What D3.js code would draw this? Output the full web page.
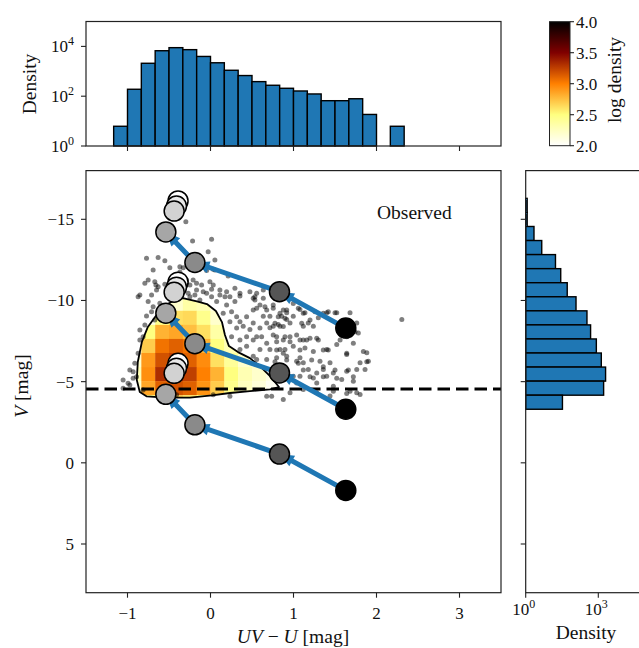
<!DOCTYPE html>
<html><head><meta charset="utf-8">
<script src="https://cdn.jsdelivr.net/npm/d3@7"></script>
<style>
body{margin:0;background:#fff;}
text{font-family:'Liberation Serif','DejaVu Serif',serif;fill:#111;}
</style>
</head><body><svg id="c" width="639" height="648"></svg>
<script>
// ---------------- DATA ----------------
const xTicks = [-1, 0, 1, 2, 3];
const yTicks = [-15, -10, -5, 0, 5];
const cbTicks = [2.0, 2.5, 3.0, 3.5, 4.0];
const topHistTicks = [0, 2, 4];      // exponents
const rightHistTicks = [0, 3];       // exponents

// top histogram (UV-U), bins of 1/6 mag
const topBinStart = -7 / 6;
const topBinWidth = 1 / 6;
const topHistValues = [6.2, 190, 2100, 6700, 8900, 7400, 3950, 2200, 1100, 675, 385, 275, 208, 162, 123, 66, 66, 79, 18.5, 0, 6.2];

// right histogram (V), 15 bins
const rightBinStart = -16.29;
const rightBinWidth = 0.866;
const rightHistValues = [1.15, 1.15, 2.2, 4.6, 17, 28, 52, 120, 340, 480, 830, 1330, 2000, 1660, 33];

// 2D density (log), columns start at UV-U = -1.0 (width 1/6), rows start at V = -10.23 (height 0.866)
const heatColStart = -1.0;
const heatRowStart = -10.23;
const heatLog = [
  [0,   0,    0,    2.2,  2.35, 2.3,  2.1,  0,    0,    0,    0  ],
  [0,   2.1,  2.45, 2.62, 2.65, 2.45, 2.2,  2.05, 0,    0,    0  ],
  [0,   2.5,  2.8,  2.85, 2.75, 2.62, 2.35, 2.15, 0,    0,    0  ],
  [2.1, 2.7,  3.05, 3.12, 3.05, 2.8,  2.5,  2.3,  2.1,  0,    0  ],
  [2.2, 2.9,  3.18, 3.25, 3.12, 2.95, 2.62, 2.4,  2.2,  2.05, 0  ],
  [2.3, 2.94, 3.32, 3.38, 3.25, 3.0,  2.8,  2.5,  2.3,  2.2,  2.1],
  [2.2, 2.85, 3.12, 3.18, 3.12, 2.92, 2.7,  2.45, 2.25, 2.15, 2.05],
  [0,   2.5,  2.7,  2.7,  2.6,  2.5,  2.35, 2.25, 2.15, 2.1,  0  ]
];

// density contour
const contourUV = [-0.333,-0.164,-0.043,0.065,0.138,0.174,0.222,0.331,0.475,0.620,0.729,0.825,0.717,0.475,0.234,0.017,-0.248,-0.550,-0.767,-0.852,-0.888,-0.876,-0.827,-0.755,-0.659,-0.538,-0.417];
const contourV  = [-10.15,-9.94,-9.78,-9.35,-8.67,-7.87,-7.19,-6.82,-6.45,-5.84,-5.28,-4.67,-4.52,-4.42,-4.30,-4.15,-4.02,-4.02,-4.09,-4.36,-5.10,-6.21,-7.44,-8.37,-9.04,-9.72,-10.06];

// observed clusters outside the contour
const scatterUV = [-0.297,-0.216,0.013,-0.028,-0.771,-0.631,-0.55,-0.369,-0.691,-0.751,-0.791,-0.671,-0.329,-0.288,-0.047,0.033,0.053,-0.658,-0.248,-0.168,-0.107,0.033,0.113,0.194,0.294,0.355,0.475,0.535,0.636,0.213,-0.007,-0.49,-0.55,-0.269,0.515,0.355,
-0.851,-0.71,-0.65,-0.751,-0.61,-0.691,-0.71,-0.771,-0.671,-0.791,-0.812,-0.872,-0.912,-0.972,-1.053,-0.993,-0.932,-0.851,-0.872,-0.851,-0.932,-1.053,-0.972,-0.891,-0.812,
-0.248,-0.188,-0.088,-0.128,0.013,0.074,0.174,0.194,0.294,0.153,0.254,0.315,0.234,0.355,0.435,0.515,0.596,0.677,0.756,0.837,0.918,0.997,0.315,0.394,0.475,0.515,0.596,0.677,0.756,0.837,0.918,0.997,0.254,0.355,0.435,0.515,0.616,0.677,0.797,0.877,0.958,0.355,0.435,0.596,0.716,0.837,0.997,0.515,0.677,0.797,0.918,1.038,0.737,0.997,0.677,0.877,0.958,
0.535,0.636,0.556,0.656,0.857,0.716,0.636,0.716,0.816,0.918,0.958,1.078,1.138,1.178,1.118,1.239,1.299,1.40,1.50,1.681,1.762,1.781,2.305,0.556,1.038,1.078,1.159,1.28,1.561,1.641,1.721,0.897,1.138,1.40,1.521,1.641,1.883,1.902,0.556,1.078,1.118,1.319,1.44,1.802,1.178,1.28,1.359,1.48,1.641,1.762,1.862,1.078,1.239,1.40,1.581,1.721,1.038,1.28,1.48,1.118,1.28,1.48,1.681,1.762,0.737,-0.409,0.033,0.234,1.44,1.641,1.802,
0.756,0.877,0.816,0.897,0.777,0.877,1.058,1.118,1.099,1.199,1.259,1.359,1.419,1.521,1.741,0.756,0.797,0.897,0.958,1.118,1.199,1.299,0.797,0.877,1.078,1.239,1.359,1.419,1.641,1.842,1.883,0.777,0.918,1.058,1.219,1.359,1.50,1.661,1.118,1.199,1.359,1.521,1.721,
-0.369,-0.631,-0.288,-0.209,0.053,-0.329,-0.168,-0.047,0.013,0.113,0.234,0.556];
const scatterV = [-14.85,-13.66,-13.77,-13.00,-12.60,-12.65,-12.45,-12.08,-11.88,-11.26,-11.06,-11.16,-12.01,-11.26,-11.84,-11.93,-12.5,-10.95,-10.95,-11.06,-10.95,-10.95,-10.65,-10.54,-10.75,-10.44,-10.54,-10.23,-10.65,-11.51,-11.16,-12.01,-11.0,-10.44,-10.13,-10.28,
-10.34,-10.34,-10.65,-9.93,-9.83,-9.62,-9.31,-9.04,-8.80,-8.49,-7.77,-6.75,-6.13,-5.72,-5.10,-4.90,-5.21,-7.57,-10.23,-8.18,-5.61,-4.59,-4.79,-5.30,-4.48,
-10.23,-10.34,-10.54,-10.03,-10.23,-9.93,-10.23,-9.72,-9.93,-9.21,-9.31,-9.0,-8.69,-8.69,-9.0,-9.41,-9.72,-9.41,-9.72,-9.21,-9.41,-9.82,-8.31,-8.41,-8.21,-8.62,-8.31,-8.62,-8.41,-8.41,-8.83,-9.03,-7.77,-7.57,-7.77,-7.57,-7.77,-7.36,-7.77,-7.57,-7.77,-6.98,-7.18,-6.98,-6.98,-6.98,-7.18,-6.57,-6.36,-6.47,-6.57,-6.26,-5.54,-5.33,-4.10,-3.90,-4.31,
-10.03,-10.13,-9.52,-9.62,-9.03,-9.03,-9.03,-8.32,-8.52,-9.24,-8.62,-9.44,-9.24,-8.62,-8.41,-8.41,-8.93,-9.24,-9.24,-9.24,-8.62,-8.0,-8.83,-7.77,-7.87,-7.57,-7.57,-7.67,-7.57,-7.77,-7.36,-6.98,-7.08,-6.98,-7.29,-6.67,-6.78,-6.26,-6.36,-6.47,-6.16,-6.26,-6.16,-6.16,-5.75,-5.54,-5.75,-5.54,-5.64,-5.75,-5.75,-5.33,-5.23,-5.33,-5.13,-5.02,-4.92,-4.92,-4.71,-4.51,-4.31,-4.41,-4.41,-4.31,-4.10,-4.20,-4.20,-4.10,-4.12,-4.27,-4.21,
-9.52,-9.41,-9.0,-8.90,-8.59,-8.39,-9.52,-9.21,-8.59,-8.80,-9.31,-9.21,-9.31,-9.25,-8.08,-7.87,-7.46,-7.77,-7.46,-7.57,-7.67,-7.57,-6.95,-6.75,-6.95,-6.85,-6.95,-6.95,-6.75,-6.85,-6.23,-6.23,-6.33,-6.13,-6.33,-5.92,-5.72,-5.72,-5.72,-5.30,-5.30,-5.21,-5.30,
-11.76,-10.85,-11.1,-11.26,-11.88,-10.65,-10.65,-10.44,-10.69,-10.34,-10.23,-10.44];

// model evolutionary tracks (young -> old), three masses
const trackUV    = [-0.391, -0.41, -0.438, -0.538, -0.188, 0.831, 1.63];
const trackVBase = [-6.13, -5.82, -5.51, -4.22, -2.34, -0.54, 1.70];
const trackOffsets = [0, -5, -10];
const trackGreys = ['#ffffff', '#e8e8e8', '#d2d2d2', '#a6a6a6', '#8a8a8a', '#555555', '#000000'];

const limitV = -4.55;

// ---------------- DRAWING ----------------
const svg = d3.select('#c');
const BLUE = '#1f77b4';
const x = d3.scaleLinear().domain([-1.5, 3.5]).range([86, 501]);
const y = d3.scaleLinear().domain([-18, 8]).range([170.6, 592.7]);
const yTop = d3.scaleLog().domain([1, 1e5]).range([146, 21.5]);
const xRight = d3.scaleLog().domain([1, 1e5]).range([525.7, 646.7]);
const cbY = d3.scaleLinear().domain([2, 4]).range([145.7, 21.7]);
const afmhotR = v => {
  const t = Math.max(0, Math.min(1, (v - 2) / 2));
  const s = 1 - t, c = z => Math.round(255 * Math.max(0, Math.min(1, z)));
  return `rgb(${c(2*s)},${c(2*s-0.5)},${c(2*s-1)})`;
};
const FS = 17, LFS = 19.5;
const fmtTick = t => t < 0 ? '\u2212' + Math.abs(t) : String(t);

function frame(x0, y0, x1, y1) {
  svg.append('rect').attr('x', x0).attr('y', y0).attr('width', x1 - x0).attr('height', y1 - y0)
    .attr('fill', 'none').attr('stroke', '#222').attr('stroke-width', 1.2);
}
function tickLine(x1, y1, x2, y2) {
  svg.append('line').attr('x1', x1).attr('y1', y1).attr('x2', x2).attr('y2', y2)
    .attr('stroke', '#222').attr('stroke-width', 1.1);
}
function powLabel(px, py, exp, anchor) {
  const t = svg.append('text').attr('x', px).attr('y', py).attr('font-size', FS).attr('text-anchor', anchor);
  t.append('tspan').text('10');
  t.append('tspan').attr('dy', -7.5).attr('font-size', 12).text(exp);
}

// ===== TOP HISTOGRAM =====
const gTop = svg.append('g');
gTop.selectAll('rect').data(topHistValues.map((v, i) => ({v, i})).filter(d => d.v > 0)).join('rect')
  .attr('x', d => x(topBinStart + d.i * topBinWidth))
  .attr('width', d => x(topBinStart + (d.i + 1) * topBinWidth) - x(topBinStart + d.i * topBinWidth))
  .attr('y', d => yTop(d.v))
  .attr('height', d => yTop(1) - yTop(d.v))
  .attr('fill', BLUE).attr('stroke', '#000').attr('stroke-width', 1.4);
frame(86, 21.5, 501, 146);
xTicks.forEach(t => tickLine(x(t), 146, x(t), 151));
topHistTicks.forEach(e => { tickLine(81, yTop(10 ** e), 86, yTop(10 ** e)); powLabel(74, yTop(10 ** e) + 6, e, 'end'); });
svg.append('text').attr('transform', 'translate(36,84) rotate(-90)').attr('text-anchor', 'middle')
  .attr('font-size', LFS).text('Density');

// ===== COLORBAR =====
const grad = svg.append('defs').append('linearGradient').attr('id', 'cbg')
  .attr('x1', 0).attr('y1', 1).attr('x2', 0).attr('y2', 0);
d3.range(0, 1.0001, 0.05).forEach(t => grad.append('stop').attr('offset', t).attr('stop-color', afmhotR(2 + 2 * t)));
svg.append('rect').attr('x', 549.5).attr('y', 21.7).attr('width', 20.5).attr('height', 124)
  .attr('fill', 'url(#cbg)').attr('stroke', '#222').attr('stroke-width', 1);
cbTicks.forEach(t => {
  tickLine(570, cbY(t), 574, cbY(t));
  svg.append('text').attr('x', 576).attr('y', cbY(t) + 6).attr('font-size', FS).text(t.toFixed(1));
});
svg.append('text').attr('transform', 'translate(621,80) rotate(-90)').attr('text-anchor', 'middle')
  .attr('font-size', LFS).text('log density');

// ===== MAIN PANEL =====
const defs = svg.select('defs');
const contourPts = contourUV.map((u, i) => [x(u), y(contourV[i])]);
const contourPath = d3.line().curve(d3.curveLinearClosed)(contourPts);
defs.append('clipPath').attr('id', 'cclip').append('path').attr('d', contourPath);
defs.append('clipPath').attr('id', 'mainclip').append('rect').attr('x', 86).attr('y', 170.6).attr('width', 415).attr('height', 422.1);

const gMain = svg.append('g').attr('clip-path', 'url(#mainclip)');
// heatmap
const cells = [];
heatLog.forEach((row, r) => row.forEach((v, c) => { if (v > 0) cells.push({r, c, v}); }));
gMain.append('g').attr('clip-path', 'url(#cclip)').selectAll('rect').data(cells).join('rect')
  .attr('x', d => x(heatColStart + d.c / 6))
  .attr('width', d => x(heatColStart + (d.c + 1) / 6) - x(heatColStart + d.c / 6) + 0.3)
  .attr('y', d => y(heatRowStart + d.r * rightBinWidth))
  .attr('height', d => y(heatRowStart + (d.r + 1) * rightBinWidth) - y(heatRowStart + d.r * rightBinWidth) + 0.3)
  .attr('fill', d => afmhotR(d.v));
// scatter
gMain.append('g').selectAll('circle').data(scatterUV.map((u, i) => [u, scatterV[i]])).join('circle')
  .attr('cx', d => x(d[0])).attr('cy', d => y(d[1])).attr('r', 2.5)
  .attr('fill', '#000').attr('fill-opacity', 0.5);
// contour
gMain.append('path').attr('d', contourPath).attr('fill', 'none').attr('stroke', '#000').attr('stroke-width', 1.8)
  .attr('stroke-linejoin', 'round');
// limit line
gMain.append('line').attr('x1', 86).attr('x2', 501).attr('y1', y(limitV)).attr('y2', y(limitV))
  .attr('stroke', '#000').attr('stroke-width', 3).attr('stroke-dasharray', '12.5,6');
// tracks
trackOffsets.forEach(off => {
  const pts = trackUV.map((u, i) => [x(u), y(trackVBase[i] + off)]);
  const seg = pts.slice(3);
  gMain.append('path').attr('d', d3.line()(seg)).attr('fill', 'none').attr('stroke', BLUE)
    .attr('stroke-width', 5).attr('stroke-linejoin', 'round');
  for (let i = 3; i < 6; i++) {
    const tgt = pts[i], src = pts[i + 1];
    const dx = src[0] - tgt[0], dy = src[1] - tgt[1], L = Math.hypot(dx, dy);
    const ux = dx / L, uy = dy / L, px = -uy, py = ux;
    const tip = [tgt[0], tgt[1]];
    const b = [tgt[0] + ux * 14.5, tgt[1] + uy * 14.5];
    gMain.append('polygon').attr('points', [tip, [b[0] + px * 6, b[1] + py * 6], [b[0] - px * 6, b[1] - py * 6]].map(p => p.join(',')).join(' '))
      .attr('fill', BLUE);
  }
});
trackOffsets.forEach(off => {
  gMain.append('g').selectAll('circle').data(trackUV.map((u, i) => ({u, v: trackVBase[i] + off, c: trackGreys[i]}))).join('circle')
    .attr('cx', d => x(d.u)).attr('cy', d => y(d.v)).attr('r', 10)
    .attr('fill', d => d.c).attr('stroke', '#000').attr('stroke-width', 1.5);
});
svg.append('text').attr('x', 377).attr('y', 219).attr('font-size', LFS).text('Observed');

frame(86, 170.6, 501, 592.7);
xTicks.forEach(t => {
  tickLine(x(t), 592.7, x(t), 597.7);
  svg.append('text').attr('x', x(t)).attr('y', 619).attr('text-anchor', 'middle').attr('font-size', FS).text(fmtTick(t));
});
yTicks.forEach(t => {
  tickLine(81, y(t), 86, y(t));
  svg.append('text').attr('x', 74).attr('y', y(t) + 6).attr('text-anchor', 'end').attr('font-size', FS).text(fmtTick(t));
});
const xl = svg.append('text').attr('x', 293).attr('y', 643).attr('text-anchor', 'middle').attr('font-size', LFS);
xl.append('tspan').attr('font-style', 'italic').text('UV');
xl.append('tspan').text(' − ');
xl.append('tspan').attr('font-style', 'italic').text('U');
xl.append('tspan').text(' [mag]');
const yl = svg.append('text').attr('transform', 'translate(28,386) rotate(-90)').attr('text-anchor', 'middle').attr('font-size', LFS);
yl.append('tspan').attr('font-style', 'italic').text('V');
yl.append('tspan').text(' [mag]');

// ===== RIGHT HISTOGRAM =====
svg.append('g').selectAll('rect').data(rightHistValues.map((v, i) => ({v, i}))).join('rect')
  .attr('y', d => y(rightBinStart + d.i * rightBinWidth))
  .attr('height', d => y(rightBinStart + (d.i + 1) * rightBinWidth) - y(rightBinStart + d.i * rightBinWidth))
  .attr('x', xRight(1))
  .attr('width', d => xRight(d.v) - xRight(1))
  .attr('fill', BLUE).attr('stroke', '#000').attr('stroke-width', 1.4);
frame(525.7, 170.6, 700, 592.7);
yTicks.forEach(t => tickLine(520.7, y(t), 525.7, y(t)));
rightHistTicks.forEach(e => {
  tickLine(xRight(10 ** e), 592.7, xRight(10 ** e), 597.7);
  powLabel(xRight(10 ** e) - 2, 615, e, 'middle');
});
svg.append('text').attr('x', 586).attr('y', 639).attr('text-anchor', 'middle').attr('font-size', LFS).text('Density');
</script>
</body></html>
